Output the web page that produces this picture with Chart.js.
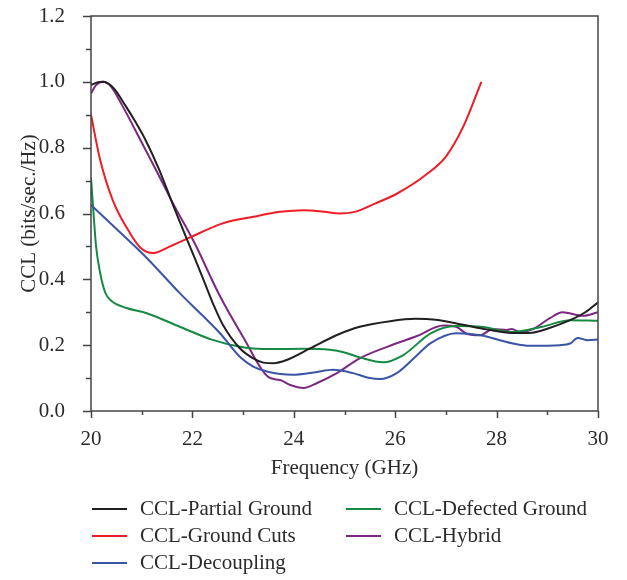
<!DOCTYPE html>
<html>
<head>
<meta charset="utf-8">
<script src="https://cdn.jsdelivr.net/npm/chart.js@4.4.1/dist/chart.umd.min.js"></script>
<style>
  body { margin: 0; background: #fff; }
  #wrap { position: relative; width: 627px; height: 580px; }
  #legend { position: absolute; left: 0; top: 495px; width: 627px; font: 21px "Liberation Serif", serif; color: #2b2b2b; }
  .item { position: absolute; display: flex; align-items: center; white-space: nowrap; height: 27px; }
  .swatch { width: 35px; height: 2px; margin-right: 13px; }
</style>
</head>
<body>
<div id="wrap">
  <canvas id="cclChart" width="627" height="580"></canvas>
  <div id="legend"></div>
</div>
<script>
const seriesNames = ["CCL-Partial Ground", "CCL-Ground Cuts", "CCL-Decoupling", "CCL-Defected Ground", "CCL-Hybrid"];
const seriesColors = ["#231f20", "#ee1c25", "#3a55a6", "#168a42", "#7c2883"];

const partialFreq = [20, 20.12, 20.24, 20.45, 20.67, 20.87, 21.07, 21.34, 21.62, 21.95, 22.19, 22.41, 22.6, 22.94, 23.2, 23.4, 23.6, 23.86, 24.32, 24.85, 25.3, 25.9, 26.4, 26.8, 27.34, 27.8, 28.3, 28.7, 29.0, 29.45, 29.75, 30];
const partialCcl = [0.99, 0.998, 1.0, 0.98, 0.93, 0.88, 0.825, 0.735, 0.625, 0.5, 0.41, 0.325, 0.262, 0.19, 0.16, 0.147, 0.145, 0.155, 0.19, 0.231, 0.256, 0.273, 0.28, 0.277, 0.262, 0.248, 0.237, 0.238, 0.25, 0.276, 0.3, 0.33];

const cutsFreq = [20, 20.18, 20.43, 20.77, 20.97, 21.23, 21.56, 21.92, 22.6, 23.2, 23.73, 24.2, 24.6, 24.9, 25.2, 25.6, 26.03, 26.6, 27.0, 27.34, 27.7];
const cutsCcl = [0.9, 0.763, 0.64, 0.54, 0.497, 0.48, 0.5, 0.525, 0.57, 0.59, 0.605, 0.61, 0.605, 0.6, 0.605, 0.63, 0.66, 0.717, 0.773, 0.863, 1.0];

const decouplingFreq = [20, 20.44, 21.1, 21.75, 22.2, 22.54, 22.94, 23.2, 23.47, 23.98, 24.4, 24.77, 25.17, 25.5, 25.7, 26.03, 26.4, 26.7, 27.2, 27.68, 28.3, 28.66, 29.25, 29.45, 29.6, 29.8, 30];
const decouplingCcl = [0.626, 0.562, 0.465, 0.358, 0.29, 0.237, 0.164, 0.135, 0.12, 0.11, 0.117, 0.125, 0.115, 0.1, 0.097, 0.115, 0.165, 0.206, 0.236, 0.23, 0.206, 0.198, 0.2, 0.205, 0.222, 0.215, 0.217];

const defectedFreq = [20, 20.05, 20.1, 20.18, 20.28, 20.4, 20.7, 21.1, 21.75, 22.4, 22.94, 23.2, 23.6, 24.18, 24.71, 25.0, 25.3, 25.76, 26.16, 26.7, 27.2, 27.73, 28.3, 28.9, 29.45, 30];
const defectedCcl = [0.708, 0.6, 0.5, 0.42, 0.36, 0.335, 0.313, 0.297, 0.256, 0.216, 0.195, 0.19, 0.188, 0.189, 0.186, 0.178, 0.163, 0.148, 0.17, 0.236, 0.258, 0.255, 0.24, 0.256, 0.276, 0.274];

const hybridFreq = [20, 20.1, 20.24, 20.4, 20.61, 20.97, 21.28, 21.62, 22.05, 22.54, 23.0, 23.5, 23.73, 23.93, 24.19, 24.46, 24.85, 25.3, 25.84, 26.43, 26.95, 27.2, 27.42, 27.67, 27.93, 28.2, 28.3, 28.46, 28.72, 29.05, 29.3, 29.7, 30];
const hybridCcl = [0.965, 0.99, 1.0, 0.985, 0.93, 0.825, 0.733, 0.63, 0.508, 0.35, 0.225, 0.103, 0.094, 0.079, 0.07, 0.085, 0.115, 0.16, 0.195, 0.228, 0.26, 0.256, 0.234, 0.23, 0.249, 0.246, 0.249, 0.24, 0.249, 0.282, 0.3, 0.289, 0.3];

const xTicks = [20, 22, 24, 26, 28, 30];
const yTicks = [0, 0.2, 0.4, 0.6, 0.8, 1.0, 1.2];

const freqs = [partialFreq, cutsFreq, decouplingFreq, defectedFreq, hybridFreq];
const values = [partialCcl, cutsCcl, decouplingCcl, defectedCcl, hybridCcl];

const serif = { family: "'Liberation Serif', serif", size: 21 };

// box around the plot plus outward major/minor ticks
const axisFrame = {
  id: "axisFrame",
  afterDatasetsDraw(chart) {
    const { ctx, chartArea: a, scales: { x, y } } = chart;
    ctx.save();
    ctx.strokeStyle = "#444";
    ctx.lineWidth = 1.5;
    ctx.strokeRect(a.left, a.top, a.right - a.left, a.bottom - a.top);
    ctx.beginPath();
    for (let f = x.min; f <= x.max; f += 1) {
      const px = Math.round(x.getPixelForValue(f)) + 0.5;
      ctx.moveTo(px, a.bottom);
      ctx.lineTo(px, a.bottom + (f % 2 === 0 ? 7 : 4));
    }
    for (let i = 0; i <= 12; i++) {
      const py = Math.round(y.getPixelForValue(i / 10)) + 0.5;
      ctx.moveTo(a.left, py);
      ctx.lineTo(a.left - (i % 2 === 0 ? 8 : 5), py);
    }
    ctx.stroke();
    ctx.restore();
  }
};

const chart = new Chart(document.getElementById("cclChart"), {
  type: "line",
  data: {
    datasets: seriesNames.map((name, i) => ({
      label: name,
      data: freqs[i].map((f, k) => ({ x: f, y: values[i][k] })),
      borderColor: seriesColors[i],
      borderWidth: 2,
      pointRadius: 0,
      fill: false,
      cubicInterpolationMode: "monotone"
    }))
  },
  options: {
    responsive: false,
    animation: false,
    layout: { padding: { left: 13, top: 16, right: 29, bottom: 95 } },
    plugins: { legend: { display: false }, tooltip: { enabled: false } },
    scales: {
      x: {
        type: "linear",
        min: 20,
        max: 30,
        afterBuildTicks: s => { s.ticks = xTicks.map(v => ({ value: v })); },
        afterFit: s => { s.height = 74; s.paddingLeft = 0; s.paddingRight = 0; },
        grid: { display: false },
        border: { display: false },
        ticks: { font: serif, color: "#2b2b2b", padding: 8 },
        title: { display: true, text: "Frequency (GHz)", font: serif, color: "#2b2b2b" }
      },
      y: {
        min: 0,
        max: 1.2,
        afterBuildTicks: s => { s.ticks = yTicks.map(v => ({ value: v })); },
        afterFit: s => { s.width = 78; s.paddingTop = 0; s.paddingBottom = 0; },
        grid: { display: false },
        border: { display: false },
        ticks: { font: serif, color: "#2b2b2b", padding: 18, callback: v => v.toFixed(1) },
        title: { display: true, text: "CCL (bits/sec./Hz)", font: serif, color: "#2b2b2b" }
      }
    }
  },
  plugins: [axisFrame]
});

// two-column legend under the axis title
const legendBox = document.getElementById("legend");
const slots = [[92, 0], [92, 27], [92, 54], [346, 0], [346, 27]];
chart.data.datasets.forEach((ds, i) => {
  const item = document.createElement("div");
  item.className = "item";
  item.style.left = slots[i][0] + "px";
  item.style.top = slots[i][1] + "px";
  const sw = document.createElement("span");
  sw.className = "swatch";
  sw.style.background = ds.borderColor;
  item.appendChild(sw);
  item.appendChild(document.createTextNode(ds.label));
  legendBox.appendChild(item);
});
</script>
</body>
</html>
